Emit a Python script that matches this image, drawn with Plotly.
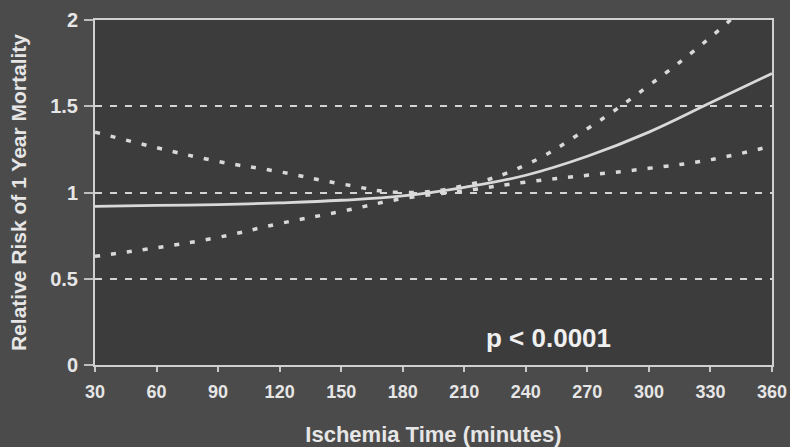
import plotly.graph_objects as go

# Ischemia time (minutes) and relative risk of 1-year mortality
minutes = [30, 60, 90, 120, 150, 180, 210, 240, 270, 300, 330, 360]
rr_est = [0.92, 0.925, 0.93, 0.94, 0.955, 0.98, 1.03, 1.10, 1.21, 1.35, 1.52, 1.69]
rr_upper = [1.35, 1.26, 1.18, 1.12, 1.05, 1.00, 1.04, 1.16, 1.37, 1.62, 1.90, 2.22]
rr_lower = [0.63, 0.68, 0.74, 0.82, 0.89, 0.965, 1.01, 1.06, 1.10, 1.14, 1.19, 1.27]

x_ticks = [30, 60, 90, 120, 150, 180, 210, 240, 270, 300, 330, 360]
y_ticks = [0, 0.5, 1, 1.5, 2]
y_tick_text = ["0", "0.5", "1", "1.5", "2"]

line_col = "#d9d9d9"
text_col = "#e6e6e6"
font_family = "Liberation Sans, Arial, sans-serif"

fig = go.Figure()
for ys in (rr_upper, rr_lower):
    fig.add_trace(go.Scatter(
        x=minutes, y=ys, mode="lines",
        line=dict(color=line_col, width=3.5, dash="5px,11px", shape="spline", smoothing=1.2),
        hoverinfo="skip", showlegend=False,
    ))
fig.add_trace(go.Scatter(
    x=minutes, y=rr_est, mode="lines",
    line=dict(color=line_col, width=2.8, shape="spline", smoothing=1.2),
    showlegend=False,
))

fig.add_annotation(
    x=251, y=0.157, xref="x", yref="y", text="<b>p < 0.0001</b>", showarrow=False,
    font=dict(size=26, color="#f0f0f0", family=font_family),
)

fig.update_layout(
    width=790, height=447,
    margin=dict(l=95, r=18, t=20, b=82),
    paper_bgcolor="#4b4b4b",
    plot_bgcolor="#3c3c3c",
    font=dict(family=font_family, color=text_col),
    xaxis=dict(
        range=[30, 360], tickvals=x_ticks, showgrid=False, zeroline=False,
        showline=True, linecolor="#d0d0d0", linewidth=2, mirror=True,
        ticks="outside", ticklen=5, tickcolor="#c8c8c8", tickwidth=1.5,
        ticklabelstandoff=4, automargin=False,
        tickfont=dict(size=18, color=text_col, family=font_family, weight="bold"),
        title=dict(text="<b>Ischemia Time (minutes)</b>", standoff=28,
                   font=dict(size=22, color=text_col, family=font_family)),
    ),
    yaxis=dict(
        range=[0, 2], tickvals=y_ticks, ticktext=y_tick_text,
        showgrid=True, gridcolor="#d4d4d4", gridwidth=1.5, griddash="7px,8px",
        zeroline=False,
        showline=True, linecolor="#d0d0d0", linewidth=2, mirror=True,
        ticks="outside", ticklen=9, tickcolor="#bdbdbd", tickwidth=1.5,
        ticklabelstandoff=2, automargin=False,
        tickfont=dict(size=20, color=text_col, family=font_family, weight="bold"),
        title=dict(text="<b>Relative Risk of 1 Year Mortality</b>", standoff=18,
                   font=dict(size=21, color=text_col, family=font_family)),
    ),
)

fig.write_html("out.html")
